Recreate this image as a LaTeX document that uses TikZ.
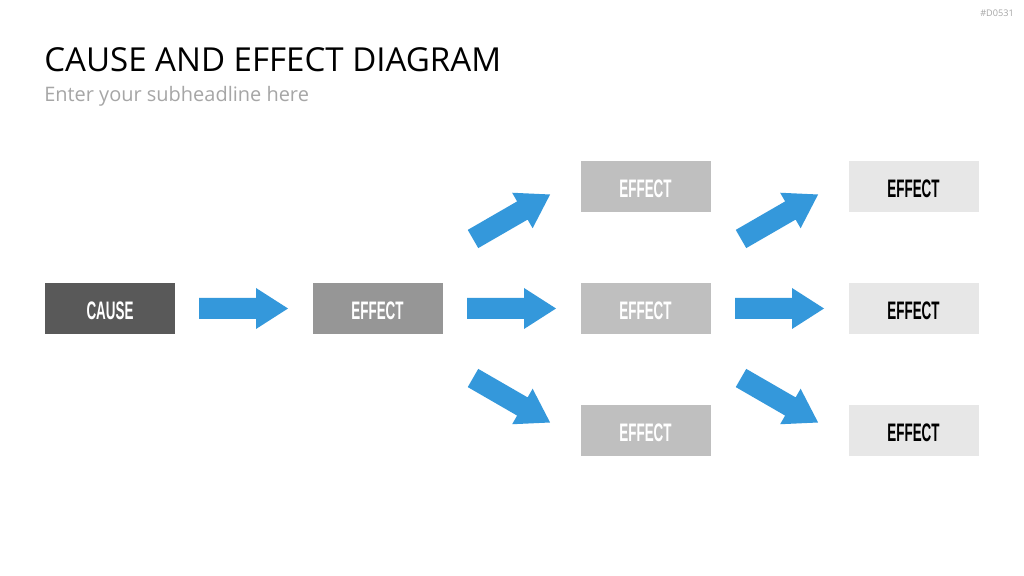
\documentclass[tikz,border=0pt]{standalone}
\usepackage{fontspec}
\setmainfont{Open Sans}
\newfontfamily\boxfont[FakeStretch=0.53]{Liberation Sans}
\definecolor{arrowblue}{HTML}{3498DB}
\definecolor{causegray}{HTML}{595959}
\definecolor{eff1}{HTML}{969696}
\definecolor{eff2}{HTML}{BFBFBF}
\definecolor{eff3}{HTML}{E7E7E7}
\definecolor{subgray}{HTML}{A6A6A6}
\begin{document}
\begin{tikzpicture}[x=0.025cm,y=0.025cm,
  box/.style={minimum width=130*0.025cm, minimum height=51*0.025cm, inner sep=0pt,
    text height=15.5pt, text depth=0pt, font=\boxfont\bfseries\fontsize{18}{18}\selectfont},
  causebox/.style={box, fill=causegray, text=white},
  effA/.style={box, fill=eff1, text=white},
  effB/.style={box, fill=eff2, text=white},
  effC/.style={box, fill=eff3, text=black},
  blockarrow/.pic={\fill[arrowblue] (0,-10.5) -- (57,-10.5) -- (57,-20.5) -- (89,0) -- (57,20.5) -- (57,10.5) -- (0,10.5) -- cycle;}
]
\useasboundingbox[fill=white] (0,0) rectangle (1024,576);
% header
\node[anchor=base west, inner sep=0pt, font=\fontsize{23.5}{23.5}\selectfont] (title) at (44,504.5) {CAUSE AND EFFECT DIAGRAM};
\node[anchor=base west, inner sep=0pt, text=subgray, font=\fontsize{14.2}{14.2}\selectfont] (sub) at (44,474) {Enter your subheadline here};
\node[anchor=north east, inner sep=0pt, text=subgray, font=\fontsize{6.5}{6.5}\selectfont] (tag) at (1014,566) {\#D0531};
% boxes
\node[causebox] (cause) at (110,267.5) {CAUSE};
\node[effA] (e1) at (377.5,267.5) {EFFECT};
\node[effB] (e2t) at (645.5,389.5) {EFFECT};
\node[effB] (e2m) at (645.5,267.5) {EFFECT};
\node[effB] (e2b) at (645.5,145.5) {EFFECT};
\node[effC] (e3t) at (913.5,389.5) {EFFECT};
\node[effC] (e3m) at (913.5,267.5) {EFFECT};
\node[effC] (e3b) at (913.5,145.5) {EFFECT};
% arrows
\pic at (199,267.5) {blockarrow};
\pic at (467,267.5) {blockarrow};
\pic at (735,267.5) {blockarrow};
\pic[rotate=30] at (473,337) {blockarrow};
\pic[rotate=-30] at (473,198) {blockarrow};
\pic[rotate=30] at (741,337) {blockarrow};
\pic[rotate=-30] at (741,198) {blockarrow};
\end{tikzpicture}
\end{document}
